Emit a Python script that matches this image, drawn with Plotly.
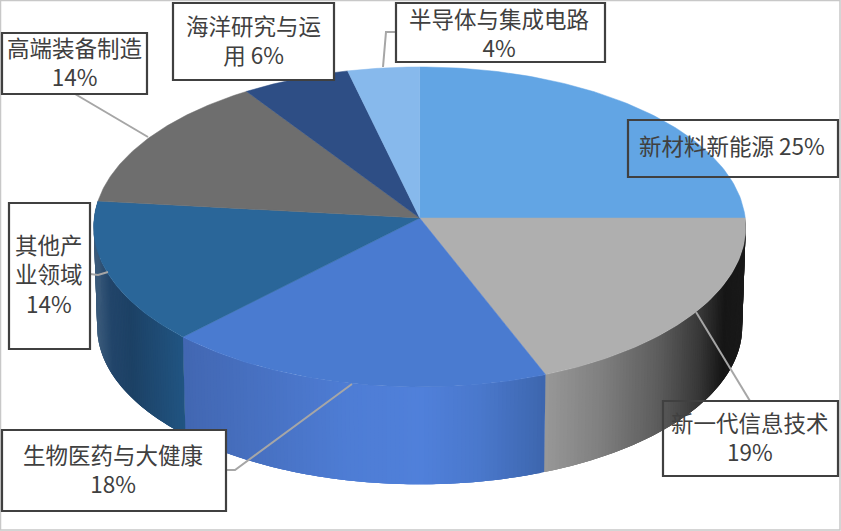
import math
import plotly.graph_objects as go

categories = ["新材料新能源", "新一代信息技术", "生物医药与大健康", "其他产业领域", "高端装备制造", "海洋研究与运用", "半导体与集成电路"]
shares = [25, 19.03, 18.27, 14.4, 13.9, 5.65, 3.75]
labels = ["新材料新能源 25%", "新一代信息技术<br>19%", "生物医药与大健康<br>18%", "其他产<br>业领域<br>14%",
          "高端装备制造<br>14%", "海洋研究与运<br>用 6%", "半导体与集成电路<br>4%"]
topColors = ["#62A5E4", "#AFAFAF", "#4A7BD0", "#2A6699", "#6E6E6E", "#2E4E85", "#87B9EC"]

# side shading as (pixel x, rgb) stops, only the three front slices show a side
sideStops = {
    1: [(545, (152, 152, 152)), (600, (128, 128, 128)), (660, (92, 92, 92)), (700, (56, 56, 56)), (725, (22, 22, 22)), (746, (26, 26, 26))],
    2: [(184, (66, 103, 178)), (350, (78, 125, 213)), (420, (80, 128, 218)), (480, (74, 120, 204)), (545, (61, 102, 174))],
    3: [(96, (58, 90, 122)), (110, (34, 69, 106)), (130, (28, 65, 101)), (185, (33, 85, 131))],
}

# x0, y0, x1, y1, filled, text centre x, text centre y, text index
boxes = [
    (628, 120, 838, 177, False, 732, 145, 0),
    (663, 401, 838, 476, False, 750, 436, 1),
    (2, 430, 226, 511, True, 113, 468, 2),
    (9, 203, 90, 349, True, 49, 273, 3),
    (2, 33, 147, 94, True, 74.5, 61.5, 4),
    (173, 3, 334, 80, True, 253, 39, 5),
    (396, 3, 605, 62, True, 499, 32, 6),
]
leaders = [
    ([75, 148], [94, 137]),
    ([396, 386, 383], [32, 32, 67]),
    ([90, 98, 108], [274, 275, 272]),
    ([226, 235, 352], [470, 470, 384]),
    ([750, 696], [401, 312]),
]

centerX, centerY = 419.7, 218
radiusX, radiusY = 325.5, 159.5
lowerY, lowerRadiusX, lowerRadiusY = 318, 322, 157
perspective = 0.056


def project(theta, cy, rx, ry):
    u = math.sin(theta)
    v = -math.cos(theta)
    scale = 1 / (1 - perspective * v)
    return centerX + rx * u * scale, cy + ry * v * scale


def topPoint(theta):
    return project(theta, centerY, radiusX, radiusY)


def bottomPoint(theta):
    return project(theta, lowerY, lowerRadiusX, lowerRadiusY)


def shade(stops, x):
    if x <= stops[0][0]:
        rgb = stops[0][1]
    elif x >= stops[-1][0]:
        rgb = stops[-1][1]
    else:
        for (x0, c0), (x1, c1) in zip(stops, stops[1:]):
            if x0 <= x <= x1:
                t = (x - x0) / (x1 - x0)
                rgb = tuple(c0[i] + (c1[i] - c0[i]) * t for i in range(3))
                break
    return "rgb(%d,%d,%d)" % tuple(round(c) for c in rgb)


total = sum(shares)
angles = [0]
for s in shares:
    angles.append(angles[-1] + s / total * 2 * math.pi)

fig = go.Figure()

# sides first, the top faces paint over whatever is behind
# each strip runs on under the next one so no seams show
for idx, stops in sideStops.items():
    start, end = angles[idx], angles[idx + 1]
    steps = max(4, int((end - start) / 0.012))
    for i in range(steps):
        a = start + (end - start) * i / steps
        b = start + (end - start) * (i + 1) / steps
        c = min(end, b + (end - start) * 2 / steps)
        p1, p2, p3 = topPoint(a), topPoint(b), topPoint(c)
        p4, p5, p6 = bottomPoint(c), bottomPoint(b), bottomPoint(a)
        color = shade(stops, (p1[0] + p2[0]) / 2)
        fig.add_trace(go.Scatter(
            x=[p1[0], p2[0], p3[0], p4[0], p5[0], p6[0], p1[0]],
            y=[p1[1], p2[1], p3[1], p4[1], p5[1], p6[1], p1[1]],
            mode="none", fill="toself", fillcolor=color,
            hoverinfo="skip", showlegend=False,
        ))

for i, name in enumerate(categories):
    arc = [angles[i] + (angles[i + 1] - angles[i]) * k / 80 for k in range(81)]
    pts = [topPoint(a) for a in arc]
    fig.add_trace(go.Scatter(
        x=[centerX] + [p[0] for p in pts] + [centerX],
        y=[centerY] + [p[1] for p in pts] + [centerY],
        mode="lines", fill="toself", fillcolor=topColors[i],
        line=dict(color=topColors[i], width=0.5), name=name, hoverinfo="name", showlegend=False,
    ))

for lx, ly in leaders:
    fig.add_trace(go.Scatter(x=lx, y=ly, mode="lines", line=dict(color="#A6A6A6", width=2),
                             hoverinfo="skip", showlegend=False))

shapes = [dict(type="rect", x0=0.5, y0=0.5, x1=840, y1=530, line=dict(color="#C8C8C8", width=1.5), layer="below")]
annotations = []
for x0, y0, x1, y1, filled, tx, ty, li in boxes:
    shapes.append(dict(type="rect", x0=x0, y0=y0, x1=x1, y1=y1,
                       line=dict(color="#404040", width=2.2),
                       fillcolor="white" if filled else "rgba(0,0,0,0)"))
    annotations.append(dict(x=tx, y=ty, text=labels[li], showarrow=False, align="center",
                            font=dict(family="Noto Sans CJK SC", size=22.5, color="#404040")))

fig.update_layout(
    width=841, height=531,
    margin=dict(l=0, r=0, t=0, b=0),
    paper_bgcolor="white", plot_bgcolor="white",
    xaxis=dict(range=[0, 841], visible=False, fixedrange=True),
    yaxis=dict(range=[531, 0], visible=False, fixedrange=True),
    shapes=shapes, annotations=annotations,
)

fig.write_html("out.html", config=dict(displayModeBar=False), post_script="document.body.style.margin='0';")
